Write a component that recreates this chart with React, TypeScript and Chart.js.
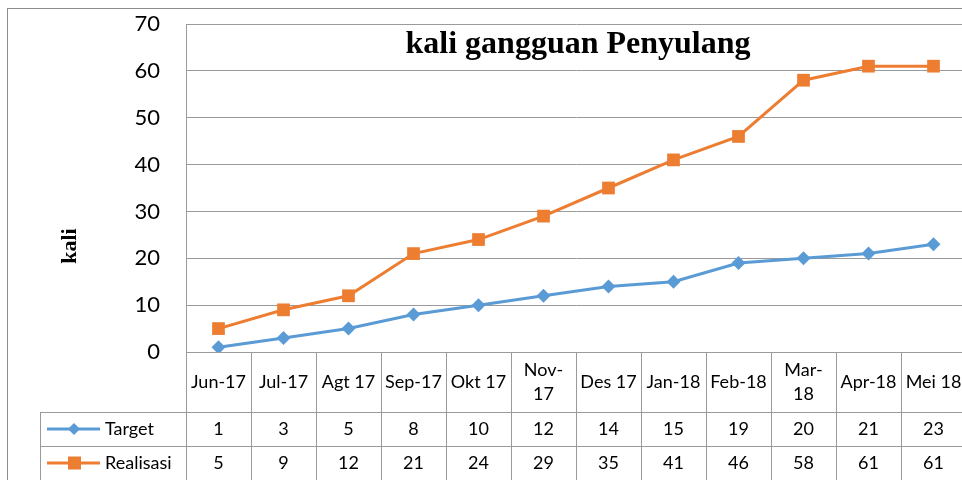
import React, { useEffect, useRef } from "react";
import { Chart, registerables } from "chart.js";

Chart.register(...registerables);

const categories: (string | string[])[] = [
  "Jun-17", "Jul-17", "Agt 17", "Sep-17", "Okt 17", ["Nov-", "17"],
  "Des 17", "Jan-18", "Feb-18", ["Mar-", "18"], "Apr-18", "Mei 18",
];
const targetValues = [1, 3, 5, 8, 10, 12, 14, 15, 19, 20, 21, 23];
const realisasiValues = [5, 9, 12, 21, 24, 29, 35, 41, 46, 58, 61, 61];
const seriesNames = ["Target", "Realisasi"];
const yTicks = { min: 0, max: 70, step: 10 };
const titleText = "kali gangguan Penyulang";
const yTitleText = "kali";

const BLUE = "#5B9BD5";
const ORANGE = "#ED7D31";
const GRID = "#9a9a9a";
const SANS = "Lato, 'Open Sans', sans-serif";
const SERIF = "'Liberation Serif', 'DejaVu Serif', serif";

const tablePlugin = {
  id: "tablePlugin",
  beforeDraw(chart: any) {
    const ctx = chart.ctx;
    ctx.save();
    ctx.fillStyle = "#fff";
    ctx.fillRect(0, 0, chart.width, chart.height);
    ctx.strokeStyle = "#8c8c8c";
    ctx.lineWidth = 1;
    ctx.strokeRect(7.5, 8.5, chart.width + 20, chart.height + 20);
    ctx.restore();
  },
  afterDraw(chart: any) {
    const ctx = chart.ctx;
    const area = chart.chartArea;
    const xs = chart.scales.x;
    const n = categories.length;
    const colW = (area.right - area.left) / n;
    const headerBottom = area.bottom + 60;
    const row1Bottom = headerBottom + 34;
    const row2Bottom = row1Bottom + 34;
    const legendLeft = 40;
    ctx.save();
    ctx.strokeStyle = GRID;
    ctx.lineWidth = 1;
    for (let i = 0; i <= n; i++) {
      const x = Math.round(area.left + i * colW) + 0.5;
      ctx.beginPath();
      ctx.moveTo(x, area.bottom);
      ctx.lineTo(x, row2Bottom + 40);
      ctx.stroke();
    }
    [headerBottom, row1Bottom, row2Bottom].forEach((y) => {
      ctx.beginPath();
      ctx.moveTo(legendLeft, Math.round(y) + 0.5);
      ctx.lineTo(area.right, Math.round(y) + 0.5);
      ctx.stroke();
    });
    ctx.beginPath();
    ctx.moveTo(legendLeft + 0.5, headerBottom);
    ctx.lineTo(legendLeft + 0.5, row2Bottom + 40);
    ctx.stroke();

    ctx.fillStyle = "#000";
    ctx.font = `18px ${SANS}`;
    ctx.textAlign = "center";
    ctx.textBaseline = "middle";
    categories.forEach((c, i) => {
      const x = xs.getPixelForValue(i);
      const midY = (area.bottom + headerBottom) / 2;
      if (Array.isArray(c)) {
        ctx.fillText(c[0], x, midY - 12);
        ctx.fillText(c[1], x, midY + 12);
      } else {
        ctx.fillText(c, x, midY);
      }
    });
    const rows = [targetValues, realisasiValues];
    const rowMids = [(headerBottom + row1Bottom) / 2, (row1Bottom + row2Bottom) / 2];
    rows.forEach((vals, r) => {
      vals.forEach((v, i) => {
        ctx.fillText(String(v), xs.getPixelForValue(i), rowMids[r]);
      });
    });
    const colors = [BLUE, ORANGE];
    rows.forEach((_, r) => {
      const y = rowMids[r];
      ctx.strokeStyle = colors[r];
      ctx.lineWidth = 3;
      ctx.beginPath();
      ctx.moveTo(47, y);
      ctx.lineTo(100, y);
      ctx.stroke();
      ctx.fillStyle = colors[r];
      ctx.beginPath();
      if (r === 0) {
        ctx.moveTo(74, y - 6);
        ctx.lineTo(80, y);
        ctx.lineTo(74, y + 6);
        ctx.lineTo(68, y);
      } else {
        ctx.rect(68, y - 6.5, 13, 13);
      }
      ctx.closePath();
      ctx.fill();
      ctx.fillStyle = "#000";
      ctx.textAlign = "left";
      ctx.fillText(seriesNames[r], 105, y);
      ctx.textAlign = "center";
    });

    ctx.font = `bold 32px ${SERIF}`;
    ctx.textAlign = "center";
    ctx.textBaseline = "middle";
    ctx.fillText(titleText, 578, 45);
    ctx.save();
    ctx.translate(70, 246);
    ctx.rotate(-Math.PI / 2);
    ctx.font = `bold 22px ${SERIF}`;
    ctx.fillText(yTitleText, 0, 0);
    ctx.restore();
    ctx.restore();
  },
};

export default function App() {
  const ref = useRef<HTMLCanvasElement | null>(null);
  useEffect(() => {
    if (!ref.current) return;
    const chart = new Chart(ref.current, {
      type: "line",
      data: {
        labels: categories.map((c) => (Array.isArray(c) ? c.join("") : c)),
        datasets: [
          {
            label: seriesNames[0],
            data: targetValues,
            borderColor: BLUE,
            backgroundColor: BLUE,
            borderWidth: 3,
            pointStyle: "rectRot",
            pointRadius: 7,
            pointBorderWidth: 0,
          },
          {
            label: seriesNames[1],
            data: realisasiValues,
            borderColor: ORANGE,
            backgroundColor: ORANGE,
            borderWidth: 3,
            pointStyle: "rect",
            pointRadius: 9,
            pointBorderWidth: 0,
          },
        ],
      },
      options: {
        responsive: false,
        animation: false,
        devicePixelRatio: 1,
        layout: { padding: { left: 0, top: 24, right: 14, bottom: 128 } },
        plugins: { legend: { display: false }, title: { display: false }, tooltip: { enabled: false } },
        scales: {
          x: { type: "category", offset: true, display: false },
          y: {
            min: yTicks.min,
            max: yTicks.max,
            ticks: {
              stepSize: yTicks.step,
              padding: 0,
              color: "#000",
              font: { family: SANS, size: 22 },
            },
            grid: { color: GRID, drawTicks: true, tickLength: 26, tickColor: "rgba(0,0,0,0)", lineWidth: 1 },
            border: { display: true, color: GRID },
            afterFit: (scale: any) => {
              scale.width = 186;
            },
          },
        },
      },
      plugins: [tablePlugin],
    });
    return () => chart.destroy();
  }, []);
  return (
    <div style={{ position: "fixed", left: 0, top: 0, width: 962, height: 480, overflow: "hidden", background: "#fff" }}>
      <canvas ref={ref} width={980} height={480} style={{ width: 980, height: 480, display: "block" }} />
    </div>
  );
}
